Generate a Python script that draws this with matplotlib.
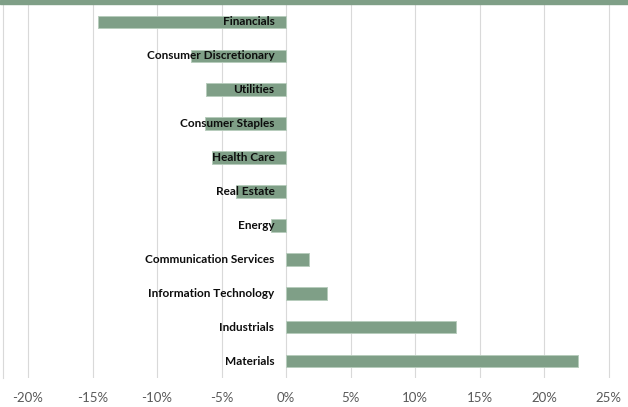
import numpy as np
import matplotlib.pyplot as plt
from matplotlib.ticker import FuncFormatter

sectors = ['Financials', 'Consumer Discretionary', 'Utilities', 'Consumer Staples',
           'Health Care', 'Real Estate', 'Energy', 'Communication Services',
           'Information Technology', 'Industrials', 'Materials']
returns = [-14.6, -7.4, -6.2, -6.3, -5.7, -3.9, -1.2, 1.8, 3.2, 13.2, 22.6]

bar_color = '#7f9f87'

fig = plt.figure(figsize=(6.28, 4.07), dpi=100)
ax = fig.add_axes([3/628, 1 - 378/407, 624/628, 373/407])

y = np.arange(len(sectors))
ax.barh(y, returns, height=0.37, color=bar_color, edgecolor='#b7ccbc', linewidth=0.7, zorder=2)

for yi, name in zip(y, sectors):
    ax.text(-0.9, yi, name, ha='right', va='center', fontsize=8.5, fontweight='bold',
            family=['Lato', 'DejaVu Sans'], color='#0d0d0d', zorder=3)

ax.set_ylim(len(sectors) - 0.5, -0.5)
ax.set_xlim((3 - 286) / 64.5 * 5, (627 - 286) / 64.5 * 5)
ax.set_xticks(np.arange(-20, 26, 5))
ax.xaxis.set_major_formatter(FuncFormatter(lambda v, p: f'{v:.0f}%'))
ax.set_yticks([])
ax.grid(axis='x', color='#d9d9d9', linewidth=0.8, zorder=0)
ax.tick_params(axis='x', length=0, pad=10, labelsize=9.5, labelcolor='#595959')
for lbl in ax.get_xticklabels():
    lbl.set_family(['Lato', 'DejaVu Sans'])
for s in ['top', 'right', 'bottom']:
    ax.spines[s].set_visible(False)
ax.spines['left'].set_color('#d9d9d9')
ax.spines['left'].set_linewidth(0.8)

# green band across the top
fig.patches.append(plt.Rectangle((0, 1 - 4/407), 1, 4/407, transform=fig.transFigure,
                                 color=bar_color, zorder=5))

fig.savefig('out.png', dpi=100)
